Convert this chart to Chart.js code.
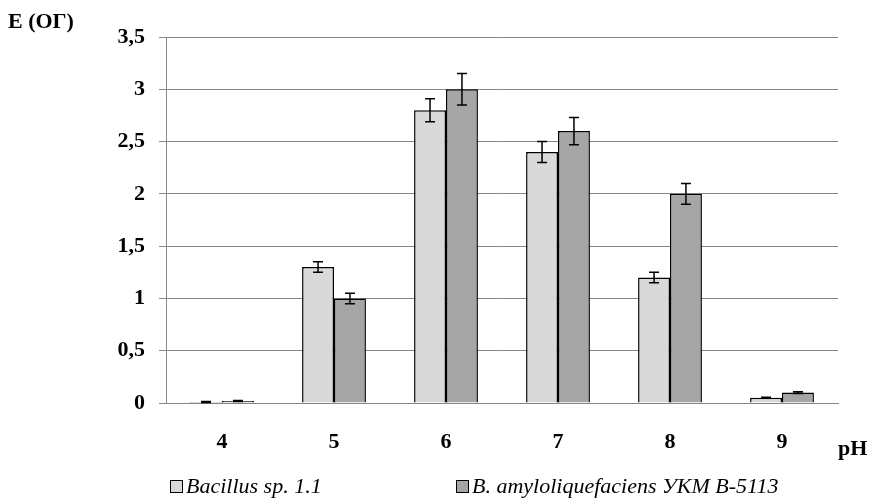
<!DOCTYPE html>
<html>
<head>
<meta charset="utf-8">
<script src="https://cdn.jsdelivr.net/npm/chart.js@4"></script>
<style>
  body { margin: 0; background: #fff; }
  #wrap { position: relative; width: 873px; height: 504px; }
  .lg { position: absolute; top: 473px; line-height: 24px; font: italic 22px "Liberation Serif", "Times New Roman", serif; color: #000; white-space: nowrap; }
  .lg span { display: inline-block; width: 11px; height: 11px; border: 1px solid #000; margin-right: 3px; vertical-align: 0px; }
</style>
</head>
<body>
<div id="wrap">
  <canvas id="phChart" width="873" height="504"></canvas>
  <div id="legend"></div>
</div>
<script>
// pH values on the x axis
const categories = ['4', '5', '6', '7', '8', '9'];
// Bacillus sp. 1.1
const bacillus = [0.01, 1.3, 2.8, 2.4, 1.2, 0.05];
const bacillusErr = [0.005, 0.05, 0.11, 0.1, 0.05, 0.005];
// B. amyloliquefaciens УКМ В-5113
const amylo = [0.02, 1.0, 3.0, 2.6, 2.0, 0.1];
const amyloErr = [0.005, 0.05, 0.15, 0.13, 0.1, 0.008];
const yTicks = ['0', '0,5', '1', '1,5', '2', '2,5', '3', '3,5'];

const serif = '"Liberation Serif", "Times New Roman", serif';

// error bars drawn through the scales
const errorBars = {
    id: 'errorBars',
    afterDatasetsDraw(chart) {
        const ctx = chart.ctx;
        const y = chart.scales.y;
        ctx.save();
        ctx.strokeStyle = '#000';
        ctx.lineWidth = 1.5;
        chart.data.datasets.forEach((ds, i) => {
            chart.getDatasetMeta(i).data.forEach((bar, j) => {
                const v = ds.data[j], e = ds.errors[j];
                const top = y.getPixelForValue(v + e);
                const bot = y.getPixelForValue(v - e);
                ctx.beginPath();
                ctx.moveTo(bar.x, top); ctx.lineTo(bar.x, bot);
                ctx.moveTo(bar.x - 5, top); ctx.lineTo(bar.x + 5, top);
                ctx.moveTo(bar.x - 5, bot); ctx.lineTo(bar.x + 5, bot);
                ctx.stroke();
            });
        });
        ctx.restore();
    }
};

// axis titles
const axisTitles = {
    id: 'axisTitles',
    afterDraw(chart) {
        const ctx = chart.ctx;
        ctx.save();
        ctx.fillStyle = '#000';
        ctx.font = 'bold 22px ' + serif;
        ctx.textBaseline = 'middle';
        ctx.textAlign = 'left';
        ctx.fillText('E (ОГ)', 8, 22);
        ctx.fillText('pH', 838, 449);
        ctx.restore();
    }
};

const ctx = document.getElementById('phChart').getContext('2d');
const chart = new Chart(ctx, {
    type: 'bar',
    data: {
        labels: categories,
        datasets: [{
            label: 'Bacillus sp. 1.1',
            data: bacillus,
            errors: bacillusErr,
            backgroundColor: '#d9d9d9',
            borderColor: '#000',
            borderWidth: 1.5
        }, {
            label: 'B. amyloliquefaciens УКМ В-5113',
            data: amylo,
            errors: amyloErr,
            backgroundColor: '#a6a6a6',
            borderColor: '#000',
            borderWidth: 1.5
        }]
    },
    options: {
        responsive: false,
        animation: false,
        layout: { padding: { top: 37, right: 35, bottom: 0, left: 0 } },
        datasets: { bar: { categoryPercentage: 0.57, barPercentage: 1 } },
        plugins: {
            legend: { display: false },
            tooltip: { enabled: false }
        },
        scales: {
            x: {
                grid: { display: false },
                border: { color: '#868686' },
                ticks: { color: '#000', font: { family: serif, size: 22, weight: 'bold' }, padding: 18 },
                afterFit(s) { s.height = 101; }
            },
            y: {
                min: 0,
                max: 3.5,
                grid: { color: '#868686', tickLength: 7 },
                border: { color: '#868686' },
                ticks: {
                    stepSize: 0.5,
                    color: '#000',
                    padding: 14,
                    font: { family: serif, size: 22, weight: 'bold' },
                    callback: (v, i) => yTicks[i]
                },
                afterFit(s) { s.width = 166; }
            }
        }
    },
    plugins: [errorBars, axisTitles]
});

// legend as HTML, coloured from the datasets
const legendPos = [170, 456];
chart.data.datasets.forEach((ds, i) => {
    const d = document.createElement('div');
    d.className = 'lg';
    d.style.left = legendPos[i] + 'px';
    d.innerHTML = '<span style="background:' + ds.backgroundColor + '"></span>' + ds.label;
    document.getElementById('legend').appendChild(d);
});
</script>
</body>
</html>
